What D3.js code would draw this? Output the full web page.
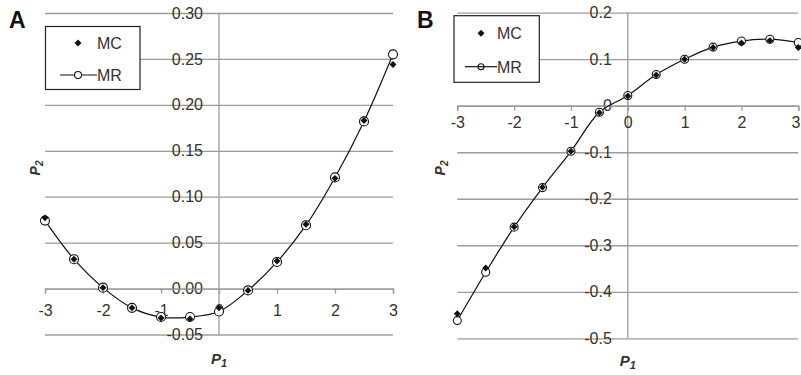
<!DOCTYPE html>
<html>
<head>
<meta charset="utf-8">
<script src="https://cdn.jsdelivr.net/npm/d3@7"></script>
<style>
  body { margin: 0; background: #fff; }
  text { font-family: "Liberation Sans", Arial, sans-serif; }
</style>
</head>
<body>
<div id="chart"></div>
<script>
var w = 801,
    h = 375;

// P1 values, shared by both panels
var p1 = [-3, -2.5, -2, -1.5, -1, -0.5, 0, 0.5, 1, 1.5, 2, 2.5, 3];
var xTicks = [-3, -2, -1, 0, 1, 2, 3];

// panel A
var mcA = [0.077, 0.032, 0.001, -0.021, -0.032, -0.033, -0.021, -0.002, 0.030, 0.070, 0.120, 0.183, 0.244];
var mrA = [0.074, 0.032, 0.001, -0.021, -0.031, -0.031, -0.025, -0.002, 0.029, 0.069, 0.121, 0.182, 0.255];
var yTicksA = [-0.05, 0, 0.05, 0.10, 0.15, 0.20, 0.25, 0.30];

// panel B
var mcB = [-0.447, -0.349, -0.260, -0.175, -0.098, -0.015, 0.021, 0.066, 0.100, 0.125, 0.135, 0.140, 0.125];
var mrB = [-0.462, -0.358, -0.261, -0.176, -0.098, -0.014, 0.022, 0.067, 0.100, 0.126, 0.139, 0.143, 0.136];
var yTicksB = [-0.5, -0.4, -0.3, -0.2, -0.1, 0, 0.1, 0.2];

var palette = {
    grid: '#9c9c9c',
    text: '#333',
    ink: '#111'
}

// plain hyphen for negatives, like the original
function hyphen(f) {
    return function(d) { return f(d).replace('\u2212', '-') }
}

var svg = d3.select('#chart')
    .append('svg')
    .attr('width', w)
    .attr('height', h)

function drawPanel(p) {
    var x = d3.scaleLinear().domain([-3, 3]).range([p.left, p.right]);
    var y = d3.scaleLinear().domain(p.yDomain).range([p.bottom, p.top]);
    var g = svg.append('g');

    // horizontal gridlines
    var grid = g.append('g')
        .attr('transform', 'translate(' + p.left + ',0)')
        .call(d3.axisLeft(y).tickValues(p.yTicks).tickSize(-(p.right - p.left)).tickFormat(''));
    grid.select('.domain').remove();
    grid.selectAll('line').attr('stroke', palette.grid).attr('stroke-width', 1.3);

    // vertical axis at P1 = 0
    g.append('line')
        .attr('x1', x(0)).attr('x2', x(0))
        .attr('y1', p.top).attr('y2', p.bottom)
        .attr('stroke', palette.grid).attr('stroke-width', 1.3);

    // y tick labels, left of the vertical axis
    var yAxis = g.append('g')
        .attr('transform', 'translate(' + (x(0) - 16) + ',0)')
        .call(d3.axisLeft(y).tickValues(p.yTicks).tickSize(0).tickPadding(0).tickFormat(p.yFormat));
    yAxis.select('.domain').remove();
    yAxis.selectAll('text')
        .attr('font-size', 16).attr('fill', palette.text)
        .attr('font-family', '"Liberation Sans", Arial, sans-serif');

    // x axis along P2 = 0
    var xAxis = g.append('g')
        .attr('transform', 'translate(0,' + y(0) + ')')
        .call(d3.axisBottom(x).tickValues(xTicks).tickSize(5).tickPadding(p.xPad).tickFormat(hyphen(d3.format('d'))));
    xAxis.select('.domain').attr('stroke', palette.grid).attr('stroke-width', 1.3);
    xAxis.selectAll('line').attr('stroke', palette.grid).attr('stroke-width', 1.3);
    xAxis.selectAll('text')
        .attr('font-size', 16).attr('fill', palette.text)
        .attr('font-family', '"Liberation Sans", Arial, sans-serif');
    // keep the last label inside the page when the panel touches the edge
    if (p.right > w - 10) {
        xAxis.selectAll('text')
            .filter(function(d) { return d === 3 })
            .attr('text-anchor', 'end')
            .attr('dx', w - 1 - p.right);
    }

    // MR smoothed line
    var line = d3.line()
        .x(function(d, i) { return x(p1[i]) })
        .y(function(d) { return y(d) })
        .curve(d3.curveCatmullRom);
    g.append('path')
        .datum(p.mr)
        .attr('d', line)
        .attr('fill', 'none')
        .attr('stroke', palette.ink)
        .attr('stroke-width', 1.2);

    g.selectAll('circle.mr')
        .data(p.mr).enter().append('circle')
        .attr('class', 'mr')
        .attr('cx', function(d, i) { return x(p1[i]) })
        .attr('cy', function(d) { return y(d) })
        .attr('r', p.r)
        .attr('fill', '#fff')
        .attr('stroke', palette.ink)
        .attr('stroke-width', 1.1);

    var diamond = d3.symbol().type(d3.symbolSquare).size(24);
    g.selectAll('path.mc')
        .data(p.mc).enter().append('path')
        .attr('class', 'mc')
        .attr('d', diamond)
        .attr('transform', function(d, i) {
            return 'translate(' + x(p1[i]) + ',' + y(d) + ') rotate(45)'
        })
        .attr('fill', palette.ink);

    // legend
    var lg = p.legend;
    g.append('rect')
        .attr('x', lg.x).attr('y', lg.y)
        .attr('width', lg.w).attr('height', lg.h)
        .attr('fill', '#fff').attr('stroke', '#222').attr('stroke-width', 1.2);
    g.append('path')
        .attr('d', diamond)
        .attr('transform', 'translate(' + lg.sx + ',' + lg.y1 + ') rotate(45)')
        .attr('fill', palette.ink);
    g.append('line')
        .attr('x1', lg.lx1).attr('x2', lg.lx2)
        .attr('y1', lg.y2).attr('y2', lg.y2)
        .attr('stroke', palette.ink).attr('stroke-width', 1.2);
    g.append('circle')
        .attr('cx', lg.sx).attr('cy', lg.y2).attr('r', lg.r)
        .attr('fill', lg.circleFill).attr('stroke', palette.ink).attr('stroke-width', 1.1);
    g.append('text').text('MC')
        .attr('x', lg.tx).attr('y', lg.y1 + 6)
        .attr('font-size', 16).attr('fill', palette.text);
    g.append('text').text('MR')
        .attr('x', lg.tx).attr('y', lg.y2 + 6)
        .attr('font-size', 16).attr('fill', palette.text);

    // panel letter and axis titles
    g.append('text').text(p.name)
        .attr('x', p.nameX).attr('y', 28)
        .attr('font-size', 23).attr('font-weight', 'bold').attr('fill', palette.ink);

    var t1 = g.append('text')
        .attr('x', x(0)).attr('y', p.p1Y)
        .attr('text-anchor', 'middle')
        .attr('font-size', 15).attr('font-weight', 'bold').attr('font-style', 'italic')
        .attr('fill', palette.text);
    t1.append('tspan').text('P');
    t1.append('tspan').text('1').attr('font-size', 11).attr('dy', 3);

    var t2 = g.append('text')
        .attr('transform', 'translate(' + p.p2X + ',' + p.p2Y + ') rotate(-90)')
        .attr('text-anchor', 'middle')
        .attr('font-size', 14).attr('font-weight', 'bold').attr('font-style', 'italic')
        .attr('fill', palette.text);
    t2.append('tspan').text('P');
    t2.append('tspan').text('2').attr('font-size', 10).attr('dy', 3);
}

drawPanel({
    name: 'A', nameX: 9,
    left: 45, right: 393, top: 13, bottom: 334.5,
    yDomain: [-0.05, 0.30], yTicks: yTicksA, yFormat: hyphen(d3.format('.2f')),
    xPad: 11, mc: mcA, mr: mrA, r: 4.5,
    p1Y: 364, p2X: 40, p2Y: 168,
    legend: { x: 45.5, y: 26.5, w: 94.5, h: 63, sx: 78, y1: 43, y2: 75, lx1: 60, lx2: 97, tx: 97, r: 3.5, circleFill: '#fff' }
});

drawPanel({
    name: 'B', nameX: 417,
    left: 457.3, right: 798.3, top: 12.7, bottom: 338.3,
    yDomain: [-0.5, 0.2], yTicks: yTicksB,
    yFormat: function(d) { return d === 0 ? '0' : hyphen(d3.format('.1f'))(d) },
    xPad: 6, mc: mcB, mr: mrB, r: 4,
    p1Y: 366, p2X: 445, p2Y: 168,
    legend: { x: 454, y: 15.7, w: 85.3, h: 66.6, sx: 481, y1: 33.3, y2: 66.7, lx1: 465, lx2: 497, tx: 497, r: 3, circleFill: 'none' }
});
</script>
</body>
</html>
